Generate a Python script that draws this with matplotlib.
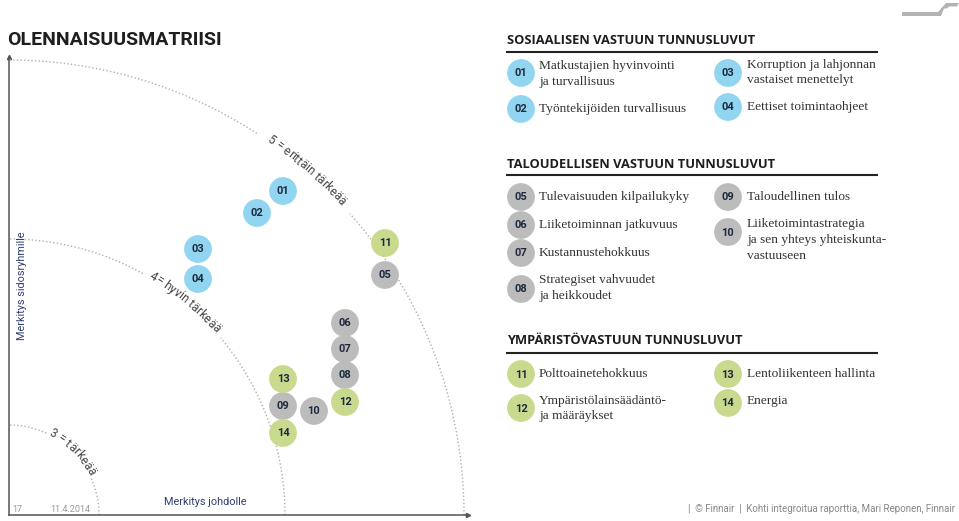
import numpy as np
import matplotlib
matplotlib.use('Agg')
import matplotlib.pyplot as plt
from matplotlib.font_manager import FontProperties, findfont, get_font
from matplotlib.patches import Polygon

# bubble positions in the matrix (px from the origin of the axes)
koodit = ['01', '02', '03', '04', '05', '06', '07', '08', '09', '10', '11', '12', '13', '14']
johdolle = [274, 248, 189, 189, 376, 336, 336, 336, 274, 305, 376, 336, 274, 274]
sidosryhmille = [324, 302, 266, 236, 240, 192, 166, 140, 109, 104, 272, 113, 136, 82]
ryhma = ['s', 's', 's', 's', 't', 't', 't', 't', 't', 't', 'y', 'y', 'y', 'y']

tasot = [455, 276, 90]
taso_tekstit = ['5 = erittäin tärkeää', '4= hyvin tärkeää', '3 = tärkeää']
taso_alku = [55.5, 59.5, 64]

otsikot = ['SOSIAALISEN VASTUUN TUNNUSLUVUT',
           'TALOUDELLISEN VASTUUN TUNNUSLUVUT',
           'YMPÄRISTÖVASTUUN TUNNUSLUVUT']
selitteet = {
    '01': 'Matkustajien hyvinvointi\nja turvallisuus',
    '02': 'Työntekijöiden turvallisuus',
    '03': 'Korruption ja lahjonnan\nvastaiset menettelyt',
    '04': 'Eettiset toimintaohjeet',
    '05': 'Tulevaisuuden kilpailukyky',
    '06': 'Liiketoiminnan jatkuvuus',
    '07': 'Kustannustehokkuus',
    '08': 'Strategiset vahvuudet\nja heikkoudet',
    '09': 'Taloudellinen tulos',
    '10': 'Liiketoimintastrategia\nja sen yhteys yhteiskunta-\nvastuuseen',
    '11': 'Polttoainetehokkuus',
    '12': 'Ympäristölainsäädäntö-\nja määräykset',
    '13': 'Lentoliikenteen hallinta',
    '14': 'Energia',
}

varit = {'s': '#92d5f0', 't': '#bcbcbc', 'y': '#c9da8e'}
navy = '#1c2a3e'
SANS = 'Roboto'
SERIF = 'Liberation Serif'

fig = plt.figure(figsize=(9.59, 5.21), dpi=100)
bg = fig.add_axes([0, 0, 1, 1])
bg.set_xlim(0, 959)
bg.set_ylim(521, 0)
bg.axis('off')

ax = fig.add_axes([9 / 959, 6 / 521, 459 / 959, 458 / 521])
ax.set_xlim(0, 459)
ax.set_ylim(0, 458)
ax.patch.set_alpha(0)
for s in ['top', 'right']:
    ax.spines[s].set_visible(False)
for s in ['left', 'bottom']:
    ax.spines[s].set_color('#555555')
    ax.spines[s].set_linewidth(1.1)
ax.set_xticks([])
ax.set_yticks([])
ax.plot([0], [458], marker='^', ms=3, color='#555555', clip_on=False)
ax.plot([459], [0], marker='>', ms=3, color='#555555', clip_on=False)

# curved labels
def kaariteksti(teksti, r, alku, koko):
    prop = FontProperties(family=SANS, size=koko)
    font = get_font(findfont(prop))
    font.set_size(koko, 72)
    pt = 100 / 72
    kohta = 0.0
    t0 = np.radians(alku)
    for ch in teksti:
        g = font.load_char(ord(ch))
        adv = g.linearHoriAdvance / 65536 * pt
        th = t0 - (kohta + adv / 2) / r
        if ch != ' ':
            ax.text(r * np.cos(th), r * np.sin(th), ch, rotation=np.degrees(th) - 90,
                    rotation_mode='anchor', ha='center', va='baseline',
                    fontproperties=prop, color='#444444')
        kohta += adv
    return np.degrees(t0 - kohta / r)

for r, teksti, alku in zip(tasot, taso_tekstit, taso_alku):
    loppu = kaariteksti(teksti, r - 1, alku, 8.6)
    for a, b in [(alku + 1.5, 90), (0, loppu - 1.5)]:
        th = np.radians(np.linspace(a, b, 200))
        ax.plot(r * np.cos(th), r * np.sin(th), color='#b5aea6', lw=1.0,
                ls=(0, (1, 1.6)), clip_on=False)

# bubbles
for k, x, y, g in zip(koodit, johdolle, sidosryhmille, ryhma):
    ax.scatter(x, y, s=400, color=varit[g], edgecolors='none', zorder=3)
    ax.text(x, y, k, ha='center', va='center', fontsize=8, fontweight='bold',
            color=navy, family=SANS, zorder=4)

ax.text(13, 229, 'Merkitys sidosryhmille', rotation=90, ha='center', va='center',
        fontsize=7.8, color='#2e3d70', family=SANS)
ax.text(196, 13, 'Merkitys johdolle', ha='center', va='center',
        fontsize=7.8, color='#2e3d70', family=SANS)

# title
bg.text(7, 40, 'OLENNAISUUSMATRIISI', ha='left', va='center', fontsize=14,
        fontweight='bold', color='#1e1e1e', family=SANS)

# legend
otsikko_y = [40, 164, 341]
viiva_y = [52, 175, 353]
for o, oy, vy in zip(otsikot, otsikko_y, viiva_y):
    bg.text(507, oy, o, ha='left', va='center', fontsize=9.3, fontweight='bold',
            color='#1e1e1e', family='Open Sans')
    bg.plot([507, 877], [vy, vy], color='#222222', lw=1.5)

sarakkeet = {'01': 0, '02': 0, '03': 1, '04': 1, '05': 0, '06': 0, '07': 0, '08': 0,
             '09': 1, '10': 1, '11': 0, '12': 0, '13': 1, '14': 1}
pallo_y = {'01': 73, '02': 109, '03': 73, '04': 107, '05': 197, '06': 225, '07': 253,
           '08': 289, '09': 197, '10': 232, '11': 374, '12': 408, '13': 374, '14': 403}
teksti_y = {'01': 74, '02': 109, '03': 72.5, '04': 107, '05': 197, '06': 225, '07': 253,
            '08': 288, '09': 197, '10': 240, '11': 374, '12': 408.5, '13': 374, '14': 401}
pallo_x = [521, 728]
teksti_x = [539, 747]
for k, g in zip(koodit, ryhma):
    c = sarakkeet[k]
    bg.scatter(pallo_x[c], pallo_y[k], s=400, color=varit[g], edgecolors='none', zorder=3)
    bg.text(pallo_x[c], pallo_y[k] + 0.5, k, ha='center', va='center', fontsize=8,
            fontweight='bold', color=navy, family=SANS, zorder=4)
    bg.text(teksti_x[c], teksti_y[k], selitteet[k], ha='left', va='center',
            fontsize=9.6, color='#333333', family=SERIF, linespacing=1.4)

# footer
bg.text(12, 509, '17', ha='left', va='center', fontsize=6.5, color='#999999', family=SANS)
bg.text(50, 509, '11.4.2014', ha='left', va='center', fontsize=6.5, color='#999999',
        family=SANS)
bg.text(955, 509, '|  © Finnair  |  Kohti integroitua raporttia, Mari Reponen, Finnair',
        ha='right', va='center', fontsize=7, color='#888888', family=SANS)

# logo
bg.add_patch(Polygon([(902, 12), (938, 12), (946, 3), (959, 3), (957, 6.5), (949, 6.5),
                      (947, 8.5), (944, 8.5), (941, 16), (902, 16)],
                     closed=True, color='#b3b3b3', lw=0))

fig.savefig('out.png', dpi=100)
